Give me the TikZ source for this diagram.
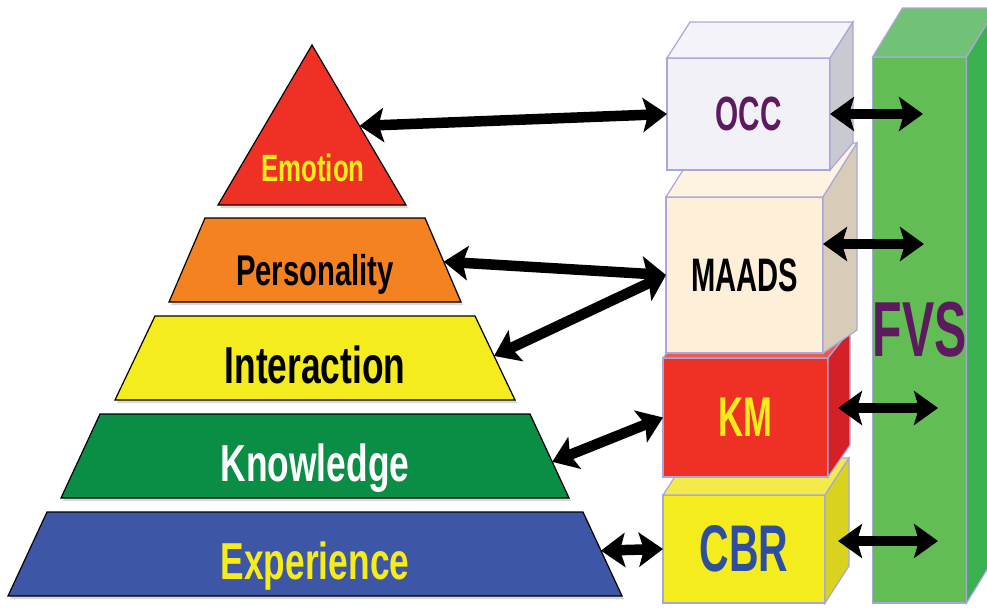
\documentclass[tikz,border=0pt]{standalone}
\usepackage{fontspec}
\newfontfamily\lblfont[FakeStretch=0.68]{Liberation Sans}
\newfontfamily\boxfont[FakeStretch=0.62]{Liberation Sans}
\usetikzlibrary{arrows.meta, calc, shadows}
\definecolor{emored}{RGB}{238,49,36}
\definecolor{persorange}{RGB}{245,130,32}
\definecolor{interyellow}{RGB}{244,236,28}
\definecolor{knowgreen}{RGB}{10,142,69}
\definecolor{expblue}{RGB}{61,86,166}
\definecolor{lblyellow}{RGB}{245,236,26}
\definecolor{lblpurple}{RGB}{94,26,94}
\definecolor{lblblue}{RGB}{46,78,158}
\definecolor{cubeedge}{RGB}{168,168,216}
\definecolor{occfront}{RGB}{241,241,247}
\definecolor{occtop}{RGB}{243,243,249}
\definecolor{occside}{RGB}{201,201,210}
\definecolor{maadsfront}{RGB}{253,239,216}
\definecolor{maadstop}{RGB}{253,243,224}
\definecolor{maadsside}{RGB}{216,204,184}
\definecolor{kmtop}{RGB}{240,90,78}
\definecolor{kmside}{RGB}{213,32,39}
\definecolor{cbrtop}{RGB}{244,235,74}
\definecolor{cbrside}{RGB}{217,210,31}
\definecolor{fvsfront}{RGB}{99,189,85}
\definecolor{fvstop}{RGB}{113,194,119}
\definecolor{fvsside}{RGB}{58,176,78}

\begin{document}
\begin{tikzpicture}[x=1pt, y=-1pt,
  layer/.style={draw=black, line width=1.2pt,
                drop shadow={shadow xshift=2pt, shadow yshift=-3pt, opacity=0.3}},
  lbl/.style={font=\lblfont\bfseries\fontsize{#1}{#1}\selectfont, inner sep=0pt, anchor=base},
  boxlbl/.style={font=\boxfont\bfseries\fontsize{#1}{#1}\selectfont},
  face/.style={draw=cubeedge, line width=1.2pt, inner sep=0pt, outer sep=0pt},
  dbl/.style={{Stealth[length=24pt, width=34pt, inset=5pt]}-{Stealth[length=24pt, width=34pt, inset=5pt]},
              line width=10.5pt, black},
]
  \clip (0,0) rectangle (987,608);

  % pyramid
  \coordinate (emo-t) at (312,45);
  \coordinate (emo-r) at (406,205);
  \coordinate (emo-l) at (218,205);
  \filldraw[layer, fill=emored] (emo-t) -- (emo-r) -- (emo-l) -- cycle;
  \node[lbl=38, text=lblyellow] (emotion) at (313,181) {Emotion};

  \foreach \nm/\yt/\wt/\wb/\fc/\tc/\fs/\txt in {
      pers/218/110/146/persorange/black/43/Personality,
      inter/316/160/200/interyellow/black/52/Interaction,
      know/414/215/254/knowgreen/white/52/Knowledge,
      exp/512/268/307/expblue/lblyellow/52/Experience}{
    \coordinate (\nm-tl) at (315-\wt,\yt);
    \coordinate (\nm-tr) at (315+\wt,\yt);
    \coordinate (\nm-br) at (315+\wb,\yt+84);
    \coordinate (\nm-bl) at (315-\wb,\yt+84);
    \filldraw[layer, fill=\fc] (\nm-tl) -- (\nm-tr) -- (\nm-br) -- (\nm-bl) -- cycle;
    \node[lbl=\fs, text=\tc] (\nm) at (315,\yt+67) {\txt};
  }

  \coordinate (emo-a) at ($(emo-t)!0.506!(emo-r)$);
  \coordinate (pers-a) at ($(pers-tr)!0.52!(pers-br)$);
  \coordinate (inter-a) at ($(inter-tr)!0.476!(inter-br)$);
  \coordinate (know-a) at ($(know-tr)!0.57!(know-br)$);
  \coordinate (exp-a) at ($(exp-tr)!0.46!(exp-br)$);

  % FVS bar
  \node[face, boxlbl=78, fill=fvsfront, text=lblpurple,
        minimum width=93pt, minimum height=546pt] (fvs) at (919.5,330) {FVS};
  \filldraw[face, fill=fvstop] (fvs.north west) -- ++(30,-49)
    -- ($(fvs.north east)+(30,-49)$) -- (fvs.north east) -- cycle;
  \filldraw[face, fill=fvsside] (fvs.north east) -- ++(30,-49)
    -- ($(fvs.south east)+(30,-49)$) -- (fvs.south east) -- cycle;

  % stacked boxes, bottom first
  \node[face, boxlbl=66, fill=interyellow, text=lblblue,
        minimum width=162pt, minimum height=108pt] (cbr) at (744,549) {CBR};
  \filldraw[face, fill=cbrtop] (cbr.north west) -- ++(24,-37)
    -- ($(cbr.north east)+(24,-37)$) -- (cbr.north east) -- cycle;
  \filldraw[face, fill=cbrside] (cbr.north east) -- ++(24,-37)
    -- ($(cbr.south east)+(24,-37)$) -- (cbr.south east) -- cycle;

  \node[face, boxlbl=56, fill=emored, text=lblyellow,
        minimum width=165pt, minimum height=119pt] (km) at (745.5,417.5) {KM};
  \filldraw[face, fill=kmtop] (km.north west) -- ++(22,-28)
    -- ($(km.north east)+(22,-28)$) -- (km.north east) -- cycle;
  \filldraw[face, fill=kmside] (km.north east) -- ++(22,-28)
    -- ($(km.south east)+(22,-32)$) -- (km.south east) -- cycle;

  \node[face, boxlbl=47, fill=maadsfront, text=black,
        minimum width=157pt, minimum height=156pt] (maads) at (744.5,275) {MAADS};
  \filldraw[face, fill=maadstop] (maads.north west) -- ++(34,-54)
    -- ($(maads.north east)+(34,-54)$) -- (maads.north east) -- cycle;
  \filldraw[face, fill=maadsside] (maads.north east) -- ++(34,-54)
    -- ($(maads.south east)+(34,-23)$) -- (maads.south east) -- cycle;

  \node[face, boxlbl=48, fill=occfront, text=lblpurple,
        minimum width=163pt, minimum height=112pt] (occ) at (748.5,114) {OCC};
  \filldraw[face, fill=occtop] (occ.north west) -- ++(23,-36)
    -- ($(occ.north east)+(23,-36)$) -- (occ.north east) -- cycle;
  \filldraw[face, fill=occside] (occ.north east) -- ++(23,-36)
    -- ($(occ.south east)+(23,-27)$) -- (occ.south east) -- cycle;

  % links
  \coordinate (fvs-1) at (923,114);
  \coordinate (fvs-2) at (924,244);
  \coordinate (fvs-3) at (938,408);
  \coordinate (fvs-4) at (938,541);
  \draw[dbl] (emo-a) -- (occ.west);
  \draw[dbl] (pers-a) -- (maads.west);
  \draw[dbl] (inter-a) -- (maads.west);
  \draw[dbl] (know-a) -- (km.west);
  \draw[dbl] (exp-a) -- (cbr.west);
  \draw[dbl] (occ.east) -- (fvs-1);
  \draw[dbl] (maads.east |- fvs-2) -- (fvs-2);
  \draw[dbl] ($(km.east |- fvs-3)+(10,0)$) -- (fvs-3);
  \draw[dbl] ($(cbr.east |- fvs-4)+(13,0)$) -- (fvs-4);
\end{tikzpicture}
\end{document}
